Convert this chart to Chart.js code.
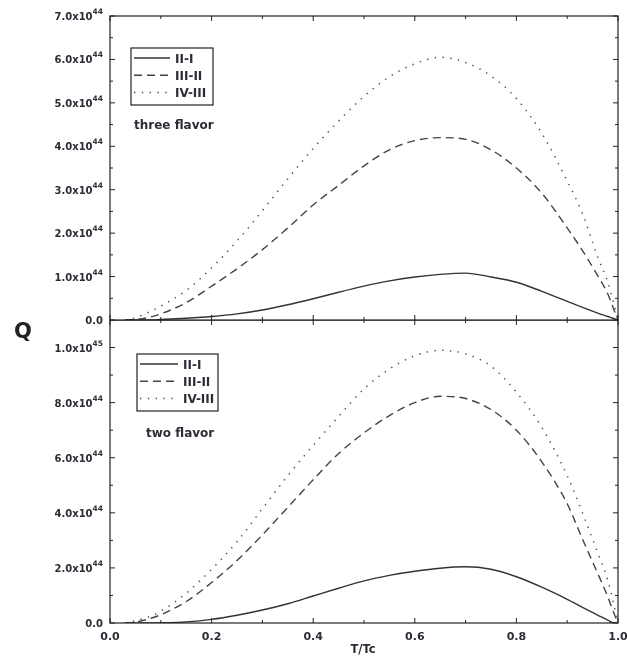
<!DOCTYPE html>
<html>
<head>
<meta charset="utf-8">
<script src="https://cdn.jsdelivr.net/npm/chart.js@4.4.0/dist/chart.umd.min.js"></script>
<style>
body { margin: 0; background: #fff; width: 627px; height: 663px; overflow: hidden; position: relative; }
canvas { position: absolute; left: 0; }
#top { top: 0; }
#bottom { top: 320px; }
#q { position: absolute; left: 14px; top: 319px; line-height: 1; font: bold 21px "DejaVu Sans", sans-serif; color: #222; }
</style>
</head>
<body>
<canvas id="top" width="627" height="330"></canvas>
<canvas id="bottom" width="627" height="343"></canvas>
<div id="q">Q</div>
<script>
// T/Tc grid the curves were read on
const T = [0.03, 0.05, 0.08, 0.10, 0.15, 0.20, 0.25, 0.30, 0.35, 0.40, 0.45, 0.50, 0.55,
           0.60, 0.65, 0.70, 0.75, 0.80, 0.85, 0.90, 0.93, 0.96, 0.98, 0.99, 1.00];

// three flavor, Q in units of 1e44
const three_II_I   = [0, 0, 0, 0.01, 0.04, 0.08, 0.14, 0.23, 0.35, 0.49, 0.64, 0.78, 0.90,
                      0.99, 1.05, 1.08, 0.99, 0.87, 0.66, 0.43, 0.29, 0.16, 0.08, 0.04, 0];
const three_III_II = [0, 0.01, 0.07, 0.14, 0.40, 0.78, 1.18, 1.62, 2.12, 2.65, 3.10, 3.55, 3.92,
                      4.13, 4.20, 4.16, 3.92, 3.50, 2.92, 2.12, 1.60, 1.02, 0.60, 0.30, 0];
const three_IV_III = [0, 0.05, 0.20, 0.32, 0.68, 1.20, 1.82, 2.52, 3.25, 3.95, 4.58, 5.15, 5.60,
                      5.90, 6.05, 5.93, 5.62, 5.10, 4.30, 3.20, 2.45, 1.45, 0.87, 0.45, 0];

// two flavor, Q in units of 1e44
const two_II_I   = [0, 0, 0, 0.005, 0.04, 0.13, 0.28, 0.47, 0.70, 0.98, 1.26, 1.53, 1.73,
                    1.88, 1.99, 2.04, 1.95, 1.68, 1.30, 0.86, 0.57, 0.29, 0.10, 0.01, 0];
const two_III_II = [0, 0.03, 0.17, 0.30, 0.78, 1.47, 2.27, 3.20, 4.20, 5.20, 6.15, 6.90, 7.53,
                    8.00, 8.23, 8.15, 7.75, 7.00, 5.85, 4.33, 3.05, 1.80, 0.95, 0.45, 0];
const two_IV_III = [0, 0.08, 0.25, 0.43, 1.08, 1.95, 2.95, 4.15, 5.35, 6.45, 7.50, 8.50, 9.22,
                    9.70, 9.90, 9.77, 9.32, 8.38, 7.10, 5.35, 4.00, 2.55, 1.55, 0.80, 0];

const seriesNames = ['II-I', 'III-II', 'IV-III'];

const xMajor = [0, 0.2, 0.4, 0.6, 0.8, 1.0];
const xMinor = [0.1, 0.3, 0.5, 0.7, 0.9];
const xLabels = ['0.0', '0.2', '0.4', '0.6', '0.8', '1.0'];

const topYMajor = [0, 1, 2, 3, 4, 5, 6, 7];
const topYMinor = [0.5, 1.5, 2.5, 3.5, 4.5, 5.5, 6.5];
const topYLabels = ['0.0', '1.0x10^44', '2.0x10^44', '3.0x10^44', '4.0x10^44',
                    '5.0x10^44', '6.0x10^44', '7.0x10^44'];

const botYMajor = [0, 2, 4, 6, 8, 10];
const botYMinor = [1, 3, 5, 7, 9];
const botYLabels = ['0.0', '2.0x10^44', '4.0x10^44', '6.0x10^44', '8.0x10^44', '1.0x10^45'];

const FONT = '"DejaVu Sans", sans-serif';
const INK = '#2c2c36';

const styles = [
  { borderColor: '#333', borderWidth: 1.4, borderDash: [] },
  { borderColor: '#444', borderWidth: 1.4, borderDash: [8, 5] },
  { borderColor: '#555', borderWidth: 1.5, borderDash: [1.4, 6.4] }
];

function makeSets(vals) {
  return vals.map((v, i) => Object.assign({
    label: seriesNames[i],
    data: T.map((t, k) => ({ x: t, y: v[k] })),
    pointRadius: 0,
    fill: false,
    cubicInterpolationMode: 'monotone'
  }, styles[i]));
}

// frame, inward ticks, tick labels, boxed legend
const framePlugin = {
  id: 'frame',
  afterDraw(chart, args, o) {
    const { ctx, chartArea: a, scales: { x, y } } = chart;
    ctx.save();
    ctx.strokeStyle = '#222';
    ctx.lineWidth = 1.2;
    ctx.setLineDash([]);
    ctx.strokeRect(a.left, a.top, a.right - a.left, a.bottom - a.top);

    const tick = (px, py, dx, dy) => {
      ctx.beginPath(); ctx.moveTo(px, py); ctx.lineTo(px + dx, py + dy); ctx.stroke();
    };
    ctx.lineWidth = 1;
    xMajor.forEach(v => { const p = x.getPixelForValue(v); tick(p, a.bottom, 0, -5); tick(p, a.top, 0, 5); });
    xMinor.forEach(v => { const p = x.getPixelForValue(v); tick(p, a.bottom, 0, -3); tick(p, a.top, 0, 3); });
    o.yMajor.forEach(v => { const p = y.getPixelForValue(v); tick(a.left, p, 5, 0); tick(a.right, p, -5, 0); });
    o.yMinor.forEach(v => { const p = y.getPixelForValue(v); tick(a.left, p, 3, 0); tick(a.right, p, -3, 0); });

    // y labels with superscript exponent
    ctx.fillStyle = INK;
    ctx.textBaseline = 'alphabetic';
    ctx.textAlign = 'left';
    o.yMajor.forEach((v, i) => {
      const [base, sup] = o.yLabels[i].split('^');
      const py = y.getPixelForValue(v);
      ctx.font = 'bold 7.5px ' + FONT;
      const sw = sup ? ctx.measureText(sup).width : 0;
      ctx.font = 'bold 10px ' + FONT;
      const bw = ctx.measureText(base).width;
      const right = a.left - 7;
      ctx.fillText(base, right - sw - bw, py + 4);
      if (sup) {
        ctx.font = 'bold 7.5px ' + FONT;
        ctx.fillText(sup, right - sw, py - 2);
      }
    });

    if (o.showX) {
      ctx.font = 'bold 11px ' + FONT;
      ctx.textAlign = 'center';
      xMajor.forEach((v, i) => ctx.fillText(xLabels[i], x.getPixelForValue(v), a.bottom + 17));
      ctx.font = 'bold 11.5px ' + FONT;
      ctx.fillText('T/Tc', 363, a.bottom + 30);
    }

    // legend box
    const L = o.legend;
    ctx.lineWidth = 1.2;
    ctx.strokeStyle = '#222';
    ctx.strokeRect(L.x, L.y, L.w, L.h);
    ctx.font = 'bold 12px ' + FONT;
    ctx.textAlign = 'left';
    chart.data.datasets.forEach((ds, i) => {
      const ly = L.y + 10 + i * 17.3;
      ctx.strokeStyle = ds.borderColor;
      ctx.lineWidth = ds.borderWidth;
      ctx.setLineDash(ds.borderDash);
      ctx.beginPath(); ctx.moveTo(L.x + 3, ly); ctx.lineTo(L.x + 3 + L.line, ly); ctx.stroke();
      ctx.fillText(ds.label, L.x + L.line + 8, ly + 4.5);
    });
    ctx.setLineDash([]);
    ctx.font = 'bold 12px ' + FONT;
    ctx.fillText(o.note.text, o.note.x, o.note.y);
    ctx.restore();
  }
};

function makeChart(id, vals, ymax, padding, frameOpts) {
  return new Chart(document.getElementById(id), {
    type: 'line',
    data: { datasets: makeSets(vals) },
    options: {
      responsive: false,
      animation: false,
      layout: { padding: padding },
      scales: {
        x: { type: 'linear', min: 0, max: 1, display: false },
        y: { min: 0, max: ymax, display: false }
      },
      plugins: { legend: { display: false }, tooltip: { enabled: false }, frame: frameOpts }
    },
    plugins: [framePlugin]
  });
}

makeChart('top', [three_II_I, three_III_II, three_IV_III], 7,
  { left: 110, top: 16, right: 9, bottom: 10 },
  { yMajor: topYMajor, yMinor: topYMinor, yLabels: topYLabels, showX: false,
    legend: { x: 131, y: 48, w: 82, h: 57, line: 36 },
    note: { text: 'three flavor', x: 134, y: 129 } });

makeChart('bottom', [two_II_I, two_III_II, two_IV_III], 11,
  { left: 110, top: 0, right: 9, bottom: 40 },
  { yMajor: botYMajor, yMinor: botYMinor, yLabels: botYLabels, showX: true,
    legend: { x: 137, y: 34, w: 81, h: 57, line: 38 },
    note: { text: 'two flavor', x: 146, y: 117 } });
</script>
</body>
</html>
